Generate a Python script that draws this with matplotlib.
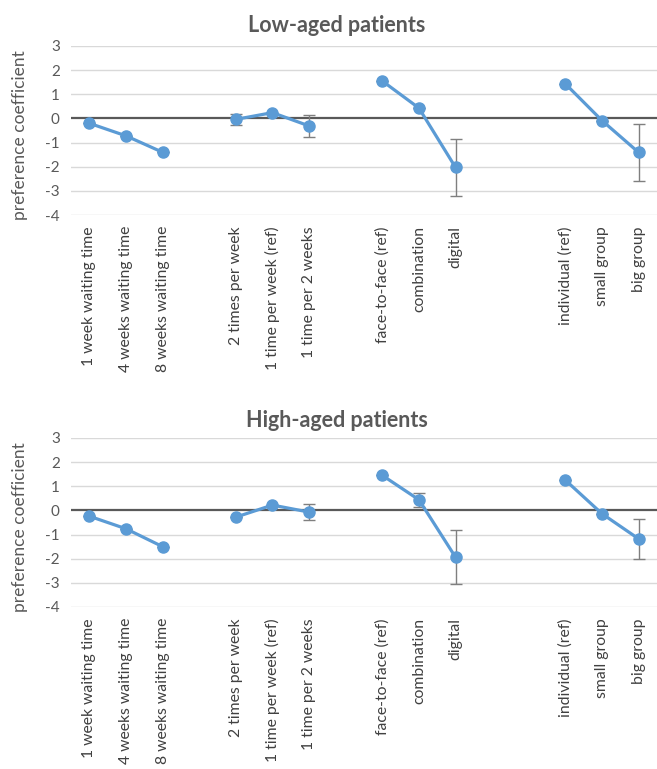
import numpy as np
import matplotlib
matplotlib.use("Agg")
import matplotlib.pyplot as plt

plt.rcParams['font.family'] = ['Lato', 'DejaVu Sans']

# Attribute levels, grouped by attribute
groups = [
    ["1 week waiting time", "4 weeks waiting time", "8 weeks waiting time"],
    ["2 times per week", "1 time per week (ref)", "1 time per 2 weeks"],
    ["face-to-face (ref)", "combination", "digital"],
    ["individual (ref)", "small group", "big group"],
]

# Preference coefficients and error half-widths per panel
low_values = [-0.20, -0.72, -1.40, -0.04, 0.24, -0.31, 1.55, 0.43, -2.03, 1.43, -0.09, -1.41]
low_errors = [0.0, 0.0, 0.0, 0.23, 0.0, 0.45, 0.0, 0.0, 1.17, 0.0, 0.0, 1.18]
high_values = [-0.24, -0.76, -1.50, -0.28, 0.22, -0.07, 1.45, 0.44, -1.94, 1.25, -0.14, -1.18]
high_errors = [0.0, 0.0, 0.0, 0.0, 0.0, 0.33, 0.0, 0.28, 1.12, 0.0, 0.0, 0.83]

titles = ["Low-aged patients", "High-aged patients"]
yticks = [-4, -3, -2, -1, 0, 1, 2, 3]

# Empty slots left before each attribute group
gaps_before = [0, 1, 1, 2]

BLUE = "#5B9BD5"
GRID = "#D9D9D9"
TEXT = "#595959"

fig = plt.figure(figsize=(6.57, 7.69), dpi=100)
axes_rects = [
    [0.108, 0.7204, 0.892, 0.2198],
    [0.108, 0.2107, 0.892, 0.2198],
]
title_y = [0.958, 0.4447]

# slot positions for each group
positions = []
labels = []
slot = 0
for grp, gap in zip(groups, gaps_before):
    slot += gap
    idx = list(range(slot, slot + len(grp)))
    positions.append(idx)
    labels.extend(grp)
    slot += len(grp)
n_slots = slot
flat_pos = [p for grp in positions for p in grp]

for rect, ty, title, vals, errs in zip(axes_rects, title_y, titles,
                                       [low_values, high_values],
                                       [low_errors, high_errors]):
    ax = fig.add_axes(rect)
    ax.set_xlim(-0.5, n_slots - 0.5)
    ax.set_ylim(-4, 3)
    ax.set_yticks(yticks)
    ax.set_yticklabels([str(t) for t in yticks], fontsize=11, color=TEXT)
    for t in yticks:
        if t != 0:
            ax.axhline(t, color=GRID, lw=1.0, zorder=0)
    ax.axhline(0, color=TEXT, lw=1.6, zorder=1)
    for s in ax.spines.values():
        s.set_visible(False)
    ax.tick_params(axis='both', length=0)
    ax.tick_params(axis='y', pad=8)

    start = 0
    for grp_pos in positions:
        n = len(grp_pos)
        v = vals[start:start + n]
        e = errs[start:start + n]
        ax.errorbar(grp_pos, v, yerr=e, fmt='none', ecolor="#7F7F7F",
                    elinewidth=1.0, capsize=4, capthick=1.0, zorder=2)
        ax.plot(grp_pos, v, color=BLUE, lw=2.3, marker='o', markersize=8,
                markerfacecolor=BLUE, markeredgecolor=BLUE, zorder=3)
        start += n

    ax.set_xticks(flat_pos)
    ax.set_xticklabels(labels, rotation=90, fontsize=11.3, color="#404040",
                       va='top', ha='center')
    ax.tick_params(axis='x', pad=8)
    ax.set_ylabel("preference coefficient", fontsize=12.5, color=TEXT)
    ax.yaxis.set_label_coords(-0.074, 0.47)
    fig.text(0.513, ty, title, fontsize=15.5, fontweight='bold', color=TEXT,
             ha='center', va='baseline')

fig.savefig("out.png", dpi=100)
